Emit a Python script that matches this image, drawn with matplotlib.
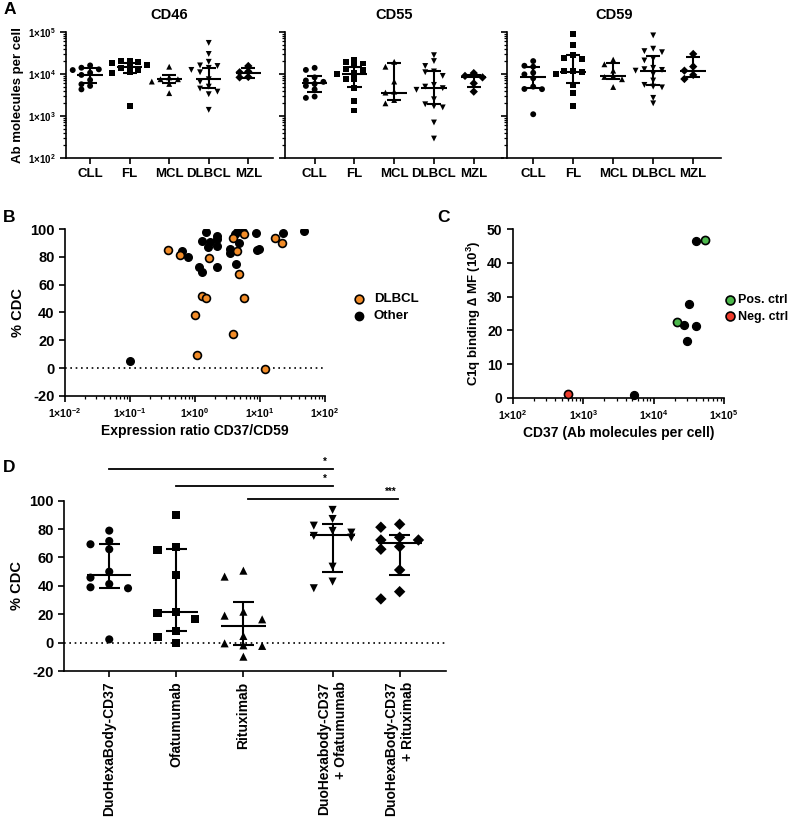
import numpy as np
import matplotlib
matplotlib.use('Agg')
import matplotlib.pyplot as plt
from matplotlib.ticker import FixedLocator, LogLocator, NullFormatter

plt.rcParams['font.family'] = ['Liberation Sans', 'DejaVu Sans']
plt.rcParams['font.weight'] = 'bold'
plt.rcParams['axes.labelweight'] = 'bold'
plt.rcParams['axes.titleweight'] = 'bold'
plt.rcParams['mathtext.fontset'] = 'custom'
plt.rcParams['mathtext.rm'] = 'Liberation Sans:bold'
plt.rcParams['mathtext.bf'] = 'Liberation Sans:bold'
plt.rcParams['mathtext.it'] = 'Liberation Sans:bold'
plt.rcParams['axes.unicode_minus'] = False
plt.rcParams['axes.linewidth'] = 1.2
plt.rcParams['xtick.major.width'] = 1.2
plt.rcParams['ytick.major.width'] = 1.2
plt.rcParams['xtick.minor.width'] = 0.9
plt.rcParams['ytick.minor.width'] = 0.9

# ---- panel A data (Ab molecules per cell) ----
groups = ['CLL', 'FL', 'MCL', 'DLBCL', 'MZL']
group_markers = ['o', 's', '^', 'v', 'D']

cd46 = [
    [16000, 14100, 12900, 12400, 10700, 9500, 7200, 5700, 5200, 4300],
    [20600, 20300, 19600, 17900, 16300, 14900, 13600, 12400, 11300, 10700, 1700],
    [14900, 8300, 7500, 7500, 6600, 5800, 3500],
    [55000, 30000, 19500, 16000, 15500, 14000, 12500, 11000, 7500, 6500, 5000, 4500, 3800, 3300, 1400],
    [15500, 11500, 11000, 8500, 8300],
]
cd46_med = [9500, 14900, 7500, 7500, 10400]
cd46_q1 = [6000, 10800, 6000, 4600, 7900]
cd46_q3 = [13600, 18000, 9500, 13600, 13600]

cd55 = [
    [14000, 12500, 8300, 7000, 6500, 5800, 5200, 4300, 2900, 2700],
    [22000, 19500, 17800, 16300, 13000, 12400, 10400, 10000, 7600, 7500, 4600, 2300, 1350],
    [19500, 14900, 6600, 3800, 3600, 2400, 2000],
    [28000, 20300, 15500, 11500, 11000, 9000, 5500, 5000, 4600, 4200, 2500, 1900, 1700, 1600, 700, 290],
    [10500, 9000, 8300, 6000, 3800],
]
cd55_med = [6200, 10000, 3600, 4600, 8700]
cd55_q1 = [3800, 4800, 2400, 1900, 4900]
cd55_q3 = [9000, 15000, 18500, 11700, 9500]

cd59 = [
    [20300, 15700, 14900, 10700, 9800, 7900, 5000, 4400, 4350, 1100],
    [91000, 50000, 28000, 24000, 23000, 12000, 11500, 11000, 9800, 5500, 3500, 1700],
    [22000, 17000, 12000, 9000, 8500, 7500, 4900],
    [83000, 40000, 35000, 33000, 23000, 21000, 14000, 13000, 12500, 12000, 10000, 7000, 5500, 5000, 4800, 2700, 2000],
    [30000, 15000, 12000, 9500, 7600],
]
cd59_med = [8600, 11300, 9000, 11900, 12000]
cd59_q1 = [4600, 6000, 7500, 5500, 8300]
cd59_q3 = [14900, 28000, 18500, 26600, 25700]

# ---- panel B data ----
dlbcl_ratio = [0.39, 0.59, 1.66, 3.8, 4.48, 5.74, 4.7, 1.27, 1.48, 5.6, 0.99, 3.8, 1.09, 11.9, 17.0, 21.5]
dlbcl_cdc = [85.1, 81.5, 79.1, 93.3, 84.4, 96.4, 68.0, 51.5, 50.5, 50.1, 38.5, 24.9, 9.2, -0.6, 93.3, 89.7]
other_ratio = [0.1, 0.79, 0.62, 1.17, 1.27, 1.27, 1.48, 1.6, 1.7, 2.15, 2.2, 2.2, 2.2, 3.45, 3.5,
               4.17, 4.3, 4.5, 4.8, 5.5, 8.7, 8.9, 9.8, 22.9, 47.5]
other_cdc = [4.9, 79.6, 83.9, 72.4, 68.8, 91.6, 97.6, 86.8, 90.4, 72.8, 95.2, 92.8, 87.5, 82.7, 85.6,
             96.4, 74.8, 98.1, 89.7, 98.1, 97.4, 85.1, 86.0, 96.9, 98.8]

# ---- panel C data ----
pos_cd37 = [21500, 54300]
pos_c1q = [22.5, 46.8]
neg_cd37 = [612]
neg_c1q = [1.0]
oth_cd37 = [40400, 31800, 27300, 39500, 29800, 5250]
oth_c1q = [46.6, 27.8, 21.6, 21.3, 16.7, 0.7]

# ---- panel D data ----
d_labels = ['DuoHexaBody-CD37', 'Ofatumumab', 'Rituximab',
            'DuoHexabody-CD37\n+ Ofatumumab', 'DuoHexaBody-CD37\n+ Rituximab']
d_markers = ['o', 's', '^', 'v', 'D']
d_values = [
    [78.9, 71.6, 69.3, 65.8, 50.0, 45.8, 41.3, 39.0, 38.3, 2.3],
    [89.7, 67.6, 65.3, 47.9, 21.4, 20.7, 16.4, 8.5, 4.2, 0.0],
    [50.7, 46.5, 21.8, 19.0, 16.4, 4.7, -0.5, -1.9, -2.3, -9.9],
    [93.5, 87.1, 82.4, 78.7, 77.5, 75.2, 74.0, 53.5, 43.0, 38.3],
    [83.4, 81.3, 74.2, 72.3, 72.3, 67.6, 65.8, 51.2, 35.9, 30.8],
]
d_med = [47.7, 21.4, 11.7, 75.6, 70.0]
d_q1 = [38.8, 8.0, -1.9, 49.6, 47.4]
d_q3 = [69.7, 66.0, 28.4, 83.4, 76.1]
d_pos = [0, 1, 2, 3.33, 4.33]
sig_pairs = [(0, 3.33, 122, '*'), (1, 3.33, 110.5, '*'), (2.07, 4.31, 101, '***')]

fig = plt.figure(figsize=(8, 8.31), dpi=100)


def swarm(vals, step, dy, ncols=5):
    cands = [0, -1, 1, -2, 2][:ncols]
    placed = []
    offs = np.zeros(len(vals))
    for i in np.argsort(vals)[::-1]:
        y = vals[i]
        chosen = cands[-1]
        for c in cands:
            if all(not (o == c and abs(py - y) < dy) for o, py in placed):
                chosen = c
                break
        placed.append((chosen, y))
        offs[i] = chosen * step
    return offs


def med_iqr(ax, x, med, q1, q3, wm, wc, lw):
    ax.hlines(med, x - wm, x + wm, color='k', lw=lw, zorder=4)
    ax.hlines([q1, q3], x - wc, x + wc, color='k', lw=lw, zorder=4)
    ax.vlines(x, q1, q3, color='k', lw=lw, zorder=4)


def clean(ax):
    ax.spines['top'].set_visible(False)
    ax.spines['right'].set_visible(False)
    ax.tick_params(direction='out', length=4)


# ---- panel A ----
a_rects = [(0.0825, 0.8099, 0.259, 0.1516), (0.356, 0.8099, 0.2725, 0.1516), (0.634, 0.8099, 0.2675, 0.1516)]
a_xlims = [(-0.61, 4.63), (-0.75, 4.73), (-0.65, 4.7)]
a_sets = [(cd46, cd46_med, cd46_q1, cd46_q3, 'CD46'),
          (cd55, cd55_med, cd55_q1, cd55_q3, 'CD55'),
          (cd59, cd59_med, cd59_q1, cd59_q3, 'CD59')]
for k, (rect, xl, (data, med, q1, q3, title)) in enumerate(zip(a_rects, a_xlims, a_sets)):
    ax = fig.add_axes(rect)
    clean(ax)
    ax.set_yscale('log')
    for i, vals in enumerate(data):
        offs = swarm(np.log10(vals), 0.22, 0.12)
        ax.scatter(i + offs, vals, marker=group_markers[i], s=18, color='k',
                   edgecolor='none', zorder=3, clip_on=False)
        med_iqr(ax, i, med[i], q1[i], q3[i], 0.32, 0.18, 1.5)
    ax.set_ylim(1e2, 1e5)
    ax.set_xlim(*xl)
    ax.set_xticks(range(5))
    ax.set_xticklabels(groups, fontsize=9.5)
    ax.yaxis.set_major_locator(FixedLocator([1e2, 1e3, 1e4, 1e5]))
    ax.yaxis.set_minor_locator(LogLocator(base=10, subs=np.arange(2, 10)))
    ax.yaxis.set_minor_formatter(NullFormatter())
    ax.tick_params(axis='y', which='minor', length=2.5)
    if k == 0:
        ax.set_yticklabels(['1×10$^2$', '1×10$^3$', '1×10$^4$', '1×10$^5$'], fontsize=7)
        ax.set_ylabel('Ab molecules per cell', fontsize=9.5, labelpad=3)
    else:
        ax.set_yticklabels([])
    ax.set_title(title, fontsize=10.5, pad=9)

# ---- panel B ----
axb = fig.add_axes((0.0813, 0.5235, 0.325, 0.2009))
clean(axb)
axb.set_xscale('log')
axb.axhline(0, color='k', ls=(0, (1, 2.2)), lw=1.2, zorder=1)
axb.scatter(other_ratio, other_cdc, s=30, color='k', edgecolor='k', lw=1, zorder=3, label='Other')
axb.scatter(dlbcl_ratio, dlbcl_cdc, s=32, color='#f28c28', edgecolor='k', lw=1.2, zorder=4, label='DLBCL')
axb.set_xlim(1e-2, 1e2)
axb.set_ylim(-20, 100)
axb.set_yticks(range(-20, 101, 20))
axb.tick_params(axis='y', labelsize=10.5)
axb.xaxis.set_major_locator(FixedLocator([1e-2, 1e-1, 1, 10, 100]))
axb.set_xticklabels(['1×10$^{-2}$', '1×10$^{-1}$', '1×10$^{0}$', '1×10$^{1}$', '1×10$^{2}$'], fontsize=7.5)
axb.xaxis.set_minor_locator(LogLocator(base=10, subs=np.arange(2, 10)))
axb.xaxis.set_minor_formatter(NullFormatter())
axb.tick_params(axis='x', which='minor', length=2.5)
axb.set_xlabel('Expression ratio CD37/CD59', fontsize=10, labelpad=3)
axb.set_ylabel('% CDC', fontsize=10.5, labelpad=4)
h, l = axb.get_legend_handles_labels()
axb.legend(h[::-1], l[::-1], loc='center left', bbox_to_anchor=(1.06, 0.53), frameon=False,
           fontsize=9.5, handletextpad=0.1, borderaxespad=0, labelspacing=0.35, markerscale=1.1)

# ---- panel C ----
axc = fig.add_axes((0.641, 0.5214, 0.264, 0.2027))
clean(axc)
axc.set_xscale('log')
axc.scatter(oth_cd37, oth_c1q, s=32, color='k', zorder=3, clip_on=False)
axc.scatter(pos_cd37, pos_c1q, s=34, color='#4cb84c', edgecolor='k', lw=1.2, zorder=4,
            clip_on=False, label='Pos. ctrl')
axc.scatter(neg_cd37, neg_c1q, s=34, color='#ee3b2b', edgecolor='k', lw=1.2, zorder=4,
            clip_on=False, label='Neg. ctrl')
axc.set_xlim(1e2, 1e5)
axc.set_ylim(0, 50)
axc.set_yticks(range(0, 51, 10))
axc.tick_params(axis='y', labelsize=10)
axc.xaxis.set_major_locator(FixedLocator([1e2, 1e3, 1e4, 1e5]))
axc.set_xticklabels(['1×10$^2$', '1×10$^3$', '1×10$^4$', '1×10$^5$'], fontsize=7.5)
axc.xaxis.set_minor_locator(LogLocator(base=10, subs=np.arange(2, 10)))
axc.xaxis.set_minor_formatter(NullFormatter())
axc.tick_params(axis='x', which='minor', length=2.5)
axc.set_xlabel('CD37 (Ab molecules per cell)', fontsize=10, labelpad=3)
axc.set_ylabel('C1q binding ∆ MF (10$^3$)', fontsize=9.5, labelpad=3)
axc.legend(loc='center left', bbox_to_anchor=(0.97, 0.53), frameon=False, fontsize=9,
           handletextpad=0.05, borderaxespad=0, labelspacing=0.35, markerscale=1.1,
           handlelength=1.2)

# ---- panel D ----
axd = fig.add_axes((0.0804, 0.1925, 0.477, 0.205))
clean(axd)
axd.axhline(0, color='k', ls=(0, (1, 2.2)), lw=1.2, zorder=1)
for i, vals in enumerate(d_values):
    offs = swarm(np.array(vals), 0.28, 5.5, ncols=3)
    axd.scatter(d_pos[i] + offs, vals, marker=d_markers[i], s=34, color='k', edgecolor='none', zorder=3)
    med_iqr(axd, d_pos[i], d_med[i], d_q1[i], d_q3[i], 0.33, 0.16, 1.5)
for x0, x1, y, star in sig_pairs:
    axd.plot([x0, x1], [y, y], color='k', lw=1.3, clip_on=False)
    axd.text(x1 - 0.12, y + 1.5, star, ha='center', va='bottom', fontsize=7)
axd.set_xlim(-0.67, 5.02)
axd.set_ylim(-20, 100)
axd.set_yticks(range(-20, 101, 20))
axd.tick_params(axis='y', labelsize=10.5)
axd.set_xticks(d_pos)
axd.set_xticklabels(d_labels, rotation=90, fontsize=10, multialignment='right')
axd.set_ylabel('% CDC', fontsize=10.5, labelpad=4)

# panel letters
for letter, x, y in [('A', 0.004, 0.988), ('B', 0.004, 0.738), ('C', 0.546, 0.738), ('D', 0.004, 0.437)]:
    fig.text(x, y, letter, fontsize=12.5, fontweight='bold', va='center')

fig.savefig('out.png', dpi=100)
